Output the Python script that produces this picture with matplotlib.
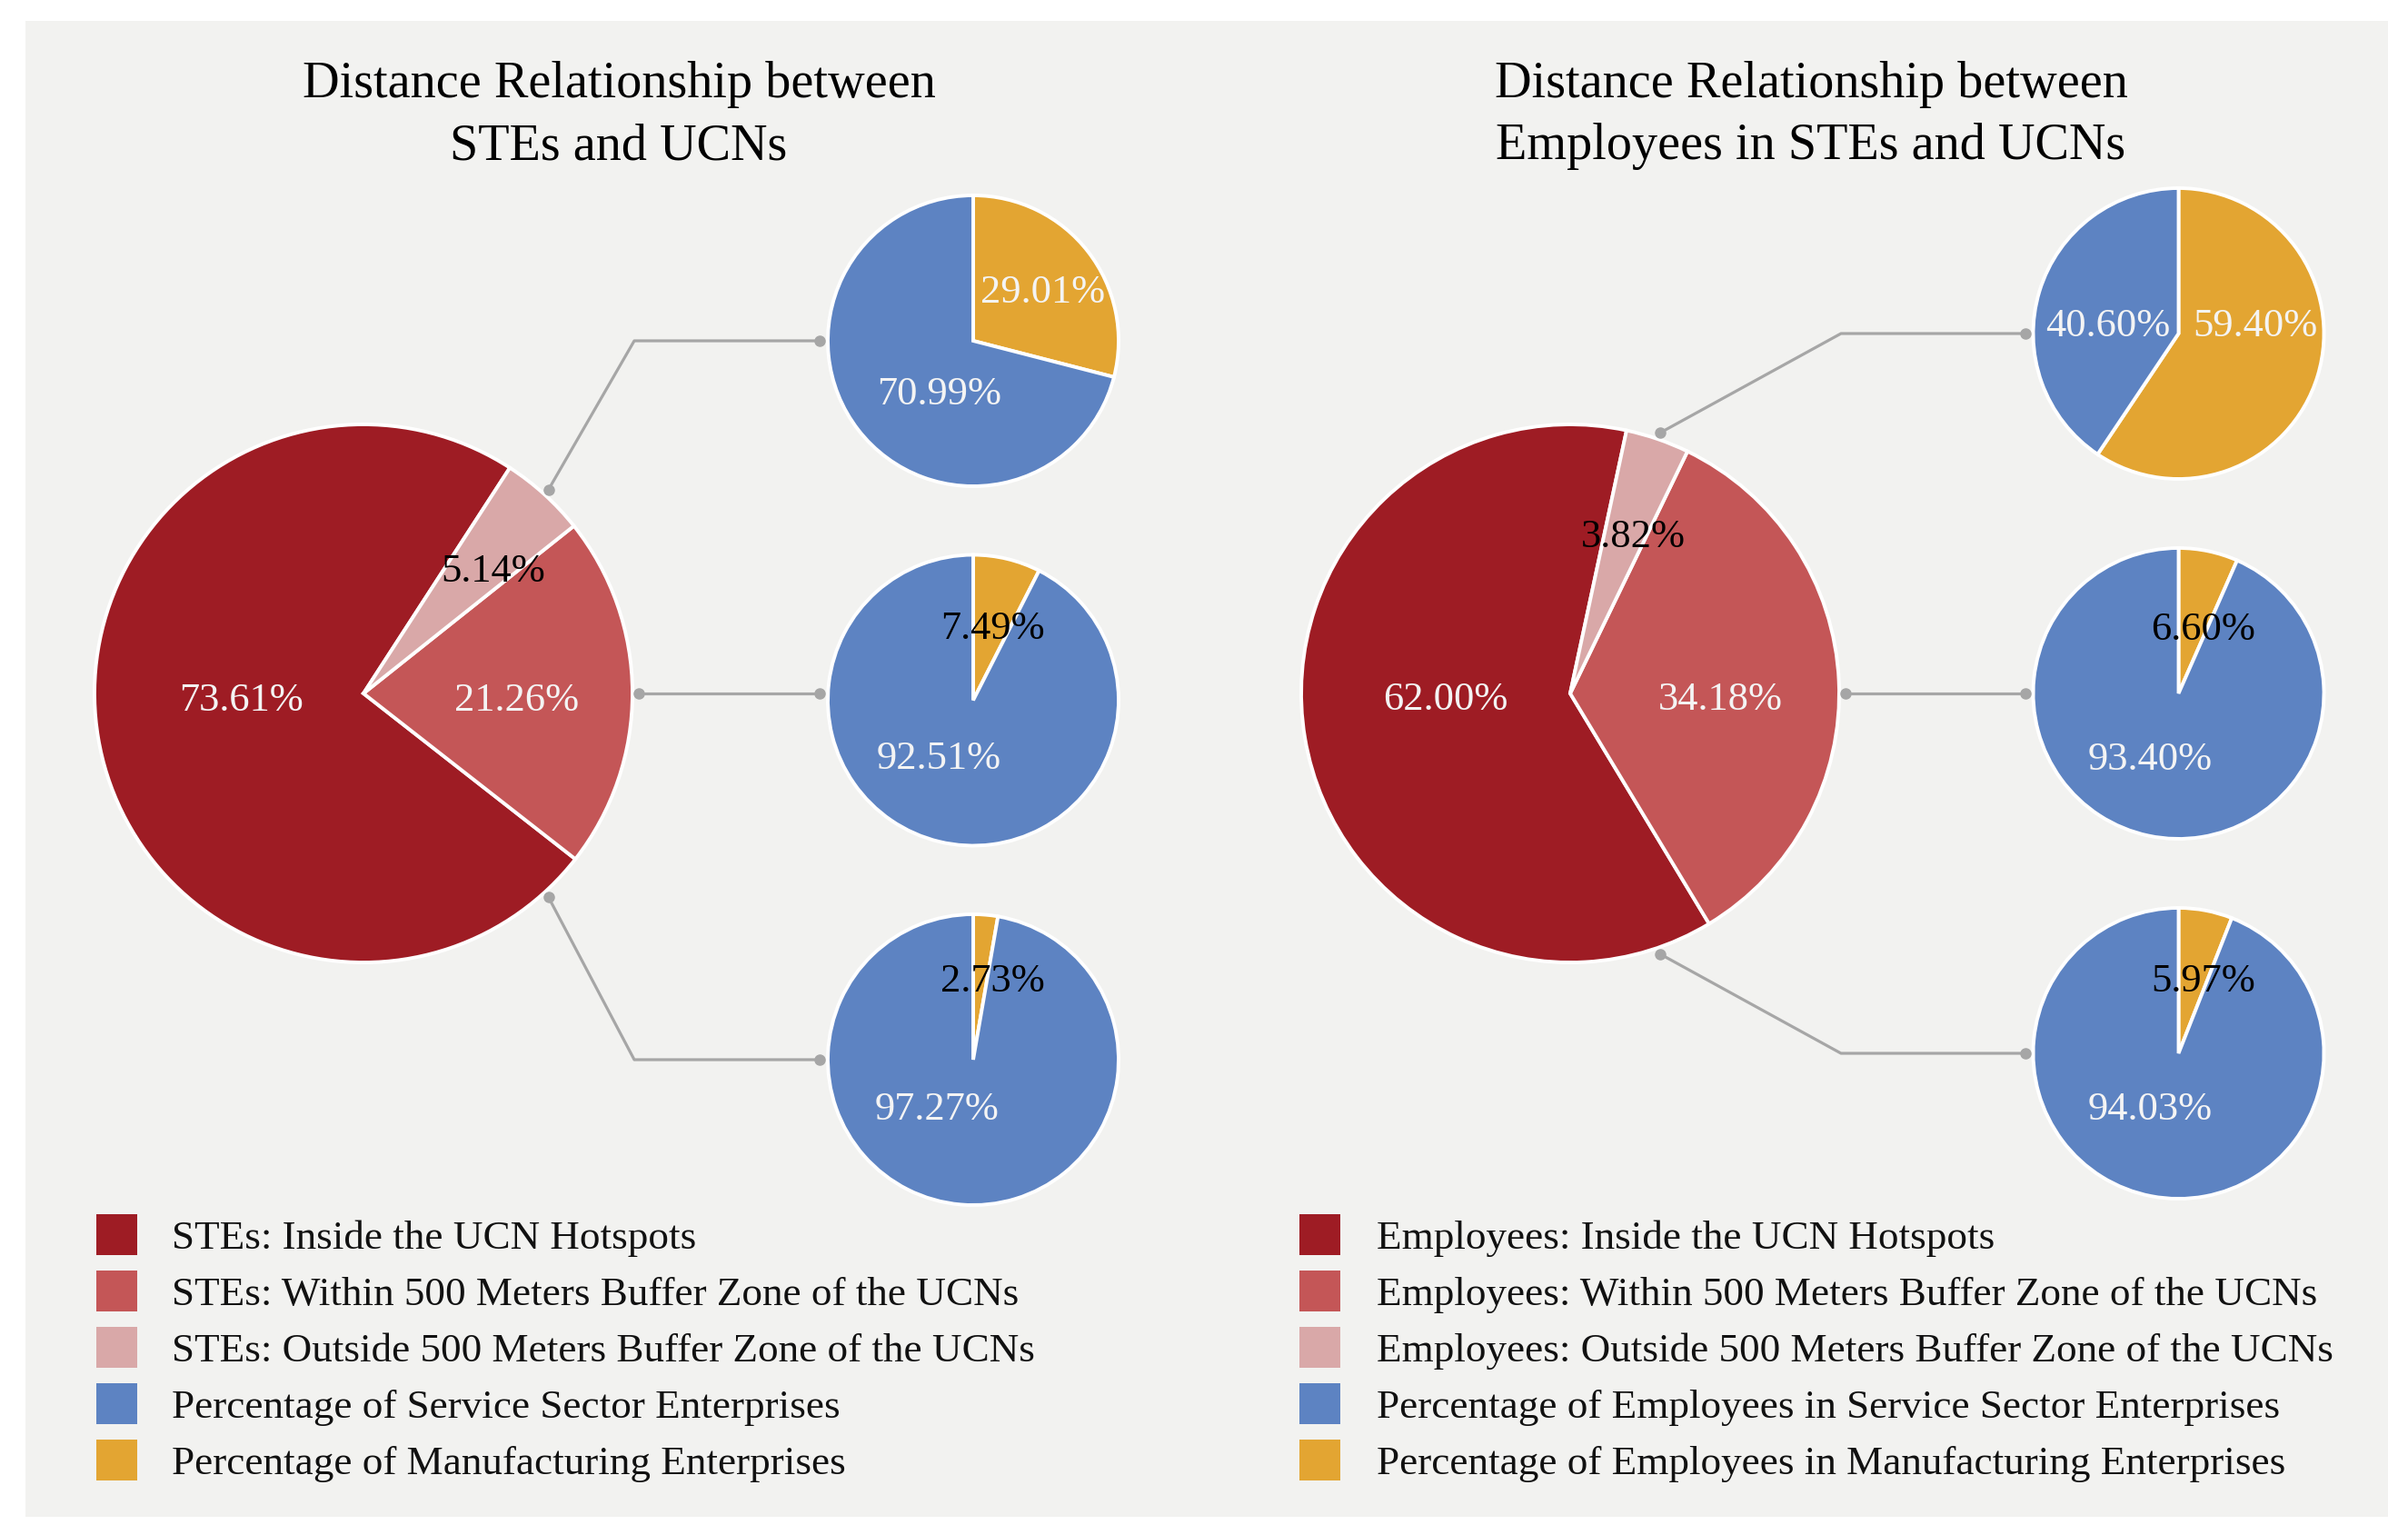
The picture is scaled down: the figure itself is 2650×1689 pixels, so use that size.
import numpy as np
import matplotlib
matplotlib.use("Agg")
import matplotlib.pyplot as plt
from matplotlib.patches import Rectangle

# ---------------- data ----------------
titles_left = ["Distance Relationship between", "STEs and UCNs"]
titles_right = ["Distance Relationship between", "Employees in STEs and UCNs"]

# main pies: [inside hotspots, within 500 m buffer, outside 500 m buffer]
main_left = [73.61, 21.26, 5.14]
main_right = [62.00, 34.18, 3.82]

# sub pies, ordered [inside, within, outside]
sub_left_manu = [2.73, 7.49, 29.01]
sub_left_serv = [97.27, 92.51, 70.99]
sub_right_manu = [5.97, 6.60, 59.40]
sub_right_serv = [94.03, 93.40, 40.60]

legend_left = ["STEs: Inside the UCN Hotspots",
               "STEs: Within 500 Meters Buffer Zone of the UCNs",
               "STEs: Outside 500 Meters Buffer Zone of the UCNs",
               "Percentage of Service Sector Enterprises",
               "Percentage of Manufacturing Enterprises"]
legend_right = ["Employees: Inside the UCN Hotspots",
                "Employees: Within 500 Meters Buffer Zone of the UCNs",
                "Employees: Outside 500 Meters Buffer Zone of the UCNs",
                "Percentage of Employees in Service Sector Enterprises",
                "Percentage of Employees in Manufacturing Enterprises"]

# ---------------- style ----------------
C_DARK, C_MED, C_LIGHT = "#9e1c24", "#c45657", "#d9a8a8"
C_BLUE, C_ORANGE = "#5d83c2", "#e3a532"
main_colors = [C_DARK, C_MED, C_LIGHT]
legend_colors = [C_DARK, C_MED, C_LIGHT, C_BLUE, C_ORANGE]
BG = "#f2f2f0"
LINE_C = "#a6a6a6"
FONT = ["Liberation Serif", "DejaVu Serif"]

W, H = 2650, 1690
DPI = 100

def Y(p):
    return H - p

panels = [
    dict(main=main_left, manu=sub_left_manu, serv=sub_left_serv,
         titles=titles_left, legend=legend_left, title_x=681,
         center=(400, 764), R=296, sub_x=1071, sub_y=[1167, 771.5, 376],
         leg_sq_x=106, leg_tx=189,
         main_lab=[(0.453, -8.2), (0.571, -1.3), (0.674, -3.6)],
         sub_lab=[[(0.584, -8.1), (0.402, -33.7)],
                  [(0.535, -0.7), (0.444, -18.8)],
                  [(0.598, -0.5), (0.409, 17.8)]]),
    dict(main=main_right, manu=sub_right_manu, serv=sub_right_serv,
         titles=titles_right, legend=legend_right, title_x=1993,
         center=(1728, 764), R=296, sub_x=2397.5, sub_y=[1160, 764, 368],
         leg_sq_x=1430, leg_tx=1515,
         main_lab=[(0.463, -8.7), (0.557, -3.3), (0.642, -2.3)],
         sub_lab=[[(0.551, -7.1), (0.407, -18.2)],
                  [(0.498, -7.9), (0.468, -13.0)],
                  [(0.531, 25.7), (0.494, 7.4)]]),
]
SUB_R = 160
DARK_MID = 189.5
LABEL_FS = 32
CAP = 0.66 * LABEL_FS * DPI / 72.0
LEG_FS = 32.5
LEG_CAP = 0.66 * LEG_FS * DPI / 72.0
WEDGE = dict(edgecolor="white", linewidth=2.8)

fig = plt.figure(figsize=(W / DPI, H / DPI), dpi=DPI, facecolor="white")
ax = fig.add_axes([0, 0, 1, 1])
ax.add_patch(Rectangle((28, Y(1670)), 2600, 1646, facecolor=BG, edgecolor="none", zorder=0))


def put_label(cx, cy, r, wedge, dist, nudge, value, color):
    th = np.deg2rad(0.5 * (wedge.theta1 + wedge.theta2) + nudge)
    x = cx + dist * r * np.cos(th)
    y = cy + dist * r * np.sin(th) - CAP / 2
    ax.text(x, y, f"{value:.2f}%", ha="center", va="baseline", fontsize=LABEL_FS,
            family=FONT, color=color, zorder=5)


for p in panels:
    cx, cyp = p["center"]
    cy = Y(cyp)
    R = p["R"]
    vals = p["main"]
    start = DARK_MID - vals[0] / sum(vals) * 360 / 2
    wedges, _ = ax.pie(vals, colors=main_colors, startangle=start, counterclock=True,
                       radius=R, center=(cx, cy), wedgeprops=WEDGE, frame=True)
    for w in wedges:
        w.set_zorder(2)
    for i, w in enumerate(wedges):
        dist, nudge = p["main_lab"][i]
        col = "black" if vals[i] < 10 else "#f4f4f4"
        put_label(cx, cy, R, w, dist, nudge, vals[i], col)

    # sub pies
    light_mid = np.deg2rad(0.5 * (wedges[2].theta1 + wedges[2].theta2))
    elbow_x = cx + R + 2
    for k in range(3):
        sx, sy = p["sub_x"], Y(p["sub_y"][k])
        sv = [p["manu"][k], p["serv"][k]]
        sw, _ = ax.pie(sv, colors=[C_ORANGE, C_BLUE], startangle=90, counterclock=False,
                       radius=SUB_R, center=(sx, sy), wedgeprops=WEDGE, frame=True)
        for w in sw:
            w.set_zorder(2)
        for i, w in enumerate(sw):
            dist, nudge = p["sub_lab"][k][i]
            col = "black" if sv[i] < 10 else "#f4f4f4"
            put_label(sx, sy, SUB_R, w, dist, nudge, sv[i], col)

        end_x = sx - SUB_R - 9
        if k == 1:  # within buffer -> straight line from main pie side
            xs = [cx + R + 7, end_x]
            ys = [cy, cy]
        else:
            sgn = 1 if k == 2 else -1
            ang = sgn * light_mid
            x0 = cx + (R + 7) * np.cos(ang)
            y0 = cy + (R + 7) * np.sin(ang)
            xs = [x0, elbow_x, end_x]
            ys = [y0, sy, sy]
        ax.plot(xs, ys, color=LINE_C, lw=2.3, zorder=1, solid_capstyle="round")
        ax.plot([xs[0], xs[-1]], [ys[0], ys[-1]], ls="none", marker="o", ms=8,
                color=LINE_C, zorder=3)

    # titles
    for j, t in enumerate(p["titles"]):
        ax.text(p["title_x"], Y(107 + 68 * j), t, ha="center", va="baseline",
                fontsize=40.5, family=FONT, color="black")

    # legend
    for i, (lab, col) in enumerate(zip(p["legend"], legend_colors)):
        yc = Y(1359 + 62 * i)
        ax.add_patch(Rectangle((p["leg_sq_x"], yc - 22.5), 45, 45, facecolor=col,
                               edgecolor="none", zorder=2))
        ax.text(p["leg_tx"], yc - LEG_CAP / 2, lab, ha="left", va="baseline",
                fontsize=LEG_FS, family=FONT, color="#111111")

ax.set_xlim(0, W)
ax.set_ylim(0, H)
ax.set_aspect("auto")
ax.axis("off")
fig.savefig("out.png", dpi=DPI, facecolor="white")
